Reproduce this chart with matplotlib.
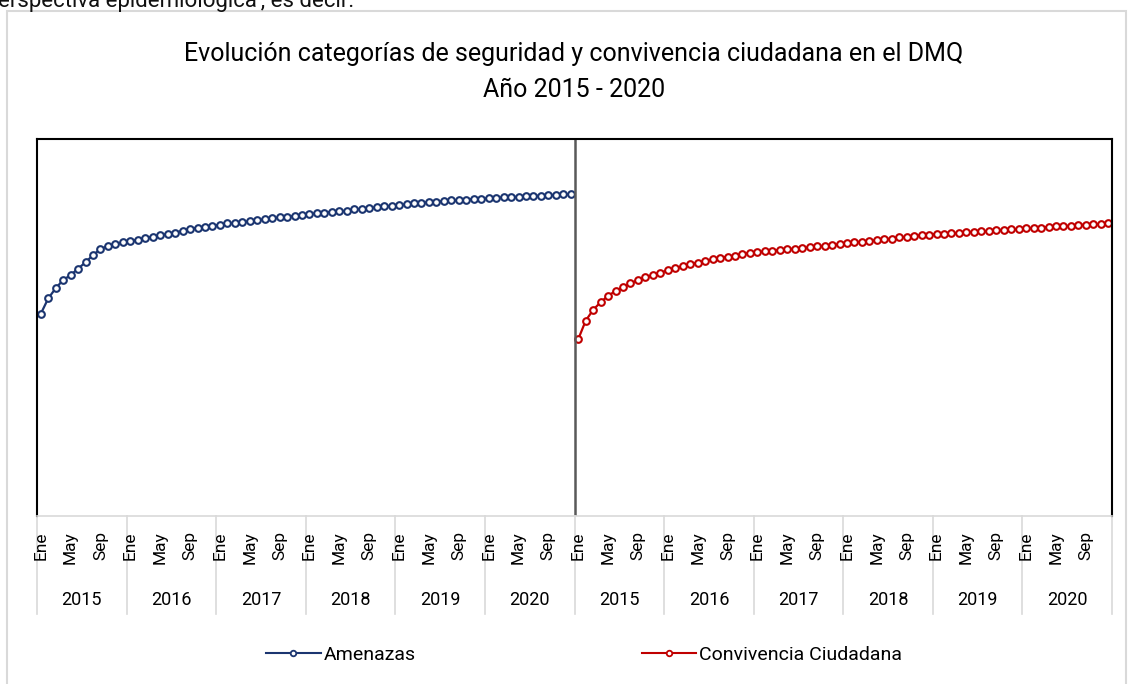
import matplotlib
matplotlib.use("Agg")
import matplotlib.pyplot as plt
from matplotlib.lines import Line2D
from matplotlib.patches import Rectangle
import matplotlib.transforms as mtransforms

plt.rcParams['font.family'] = ['Roboto', 'DejaVu Sans']

title = "Evolución categorías de seguridad y convivencia ciudadana en el DMQ\nAño 2015 - 2020"
years = ["2015", "2016", "2017", "2018", "2019", "2020"]
month_labels = {0: "Ene", 4: "May", 8: "Sep"}
series_names = ["Amenazas", "Convivencia Ciudadana"]

amenazas = [53.6, 57.7, 60.4, 62.6, 63.9, 65.6, 67.3, 69.2, 70.8, 71.6, 72.1, 72.6,
            72.9, 73.3, 73.7, 74.1, 74.5, 74.8, 75.1, 75.7, 76.2, 76.5, 76.7, 76.9,
            77.3, 77.6, 77.8, 78.0, 78.2, 78.5, 78.7, 79.0, 79.2, 79.4, 79.6, 79.9,
            80.1, 80.3, 80.5, 80.7, 80.8, 81.0, 81.3, 81.5, 81.7, 81.9, 82.1, 82.3,
            82.5, 82.7, 82.9, 83.1, 83.2, 83.4, 83.5, 83.7, 83.8, 83.9, 84.1, 84.2,
            84.3, 84.4, 84.5, 84.6, 84.7, 84.8, 84.9, 85.0, 85.1, 85.2, 85.3, 85.4]

convivencia = [46.9, 51.8, 54.7, 56.7, 58.4, 59.7, 60.7, 61.7, 62.6, 63.3, 63.9, 64.5,
               65.2, 65.7, 66.3, 66.8, 67.2, 67.6, 68.1, 68.5, 68.8, 69.0, 69.5, 69.8,
               70.0, 70.2, 70.4, 70.6, 70.8, 70.9, 71.1, 71.3, 71.5, 71.7, 71.9, 72.1,
               72.4, 72.6, 72.8, 73.0, 73.2, 73.4, 73.6, 73.9, 74.1, 74.3, 74.5, 74.6,
               74.8, 74.9, 75.0, 75.1, 75.3, 75.4, 75.5, 75.6, 75.8, 75.9, 76.0, 76.1,
               76.3, 76.4, 76.5, 76.7, 76.8, 76.9, 77.0, 77.2, 77.3, 77.4, 77.5, 77.6]

colors = ["#1b3570", "#c00000"]

W, H = 1128, 684
fig = plt.figure(figsize=(W / 100, H / 100), dpi=100)
fig.patch.set_facecolor("white")

# outer chart frame
fig.patches.append(Rectangle((7 / W, -0.02), 1119 / W, (H - 11) / H + 0.02,
                             transform=fig.transFigure, fill=False,
                             edgecolor="#d9d9d9", linewidth=1.5))

# text from the page above (partly cut off by the top edge, as in the reference)
fig.text(-2 / W, 1 - 7 / H, "erspectiva epidemiológica', es decir:", fontsize=16,
         ha='left', va='baseline', color='#111111')

left, right, top, bottom = 37, 1112, 139, 516
ax = fig.add_axes([left / W, 1 - bottom / H, (right - left) / W, (bottom - top) / H])

n = len(amenazas)
x1 = list(range(n))
x2 = list(range(n, 2 * n))
mk = dict(marker='o', markersize=4.8, markerfacecolor='white', markeredgewidth=1.5,
          linewidth=1.6)
ax.plot(x1, amenazas, color=colors[0], markeredgecolor=colors[0], **mk)
ax.plot(x2, convivencia, color=colors[1], markeredgecolor=colors[1], **mk)

ax.set_xlim(-0.5, 2 * n - 0.5)
ax.set_ylim(0, 100)
ax.set_xticks([])
ax.set_yticks([])
for s in ['top', 'left', 'right']:
    ax.spines[s].set_color('black')
    ax.spines[s].set_linewidth(1.5)
ax.spines['bottom'].set_color('#d9d9d9')
ax.spines['bottom'].set_linewidth(1.2)

# divider between panels
ax.axvline(n - 0.5, color='#595959', linewidth=1.8)

trans = mtransforms.blended_transform_factory(ax.transData, ax.transAxes)
axis_h = bottom - top
# year boundary lines
for k in range(2 * len(years) + 1):
    xb = -0.5 + 12 * k
    ax.plot([xb, xb], [0, -(614 - bottom) / axis_h], transform=trans,
            color='#d9d9d9', linewidth=1.2, clip_on=False)

# month and year labels
all_years = years + years
for k, yr in enumerate(all_years):
    for m, lab in month_labels.items():
        ax.text(12 * k + m, -(531 - bottom) / axis_h, lab, transform=trans,
                rotation=90, rotation_mode='anchor', ha='right', va='center',
                fontsize=12.5, color='black')
    ax.text(12 * k + 5.5, -(600 - bottom) / axis_h, yr, transform=trans,
            ha='center', va='center', fontsize=13, color='black')

# title
fig.text(574 / W, 1 - 72 / H, title, ha='center', va='center', fontsize=18,
         linespacing=1.6, color='black')

# legends
for name, col, cx in [(series_names[0], colors[0], 341 / W), (series_names[1], colors[1], 772 / W)]:
    h = Line2D([], [], color=col, marker='o', markersize=4, markerfacecolor='white',
               markeredgecolor=col, markeredgewidth=1.3, linewidth=1.5)
    fig.legend([h], [name], loc='center', bbox_to_anchor=(cx, 1 - 655 / H),
               frameon=False, fontsize=14, handlelength=2.8, handletextpad=0.15)

fig.savefig("out.png", dpi=100)
